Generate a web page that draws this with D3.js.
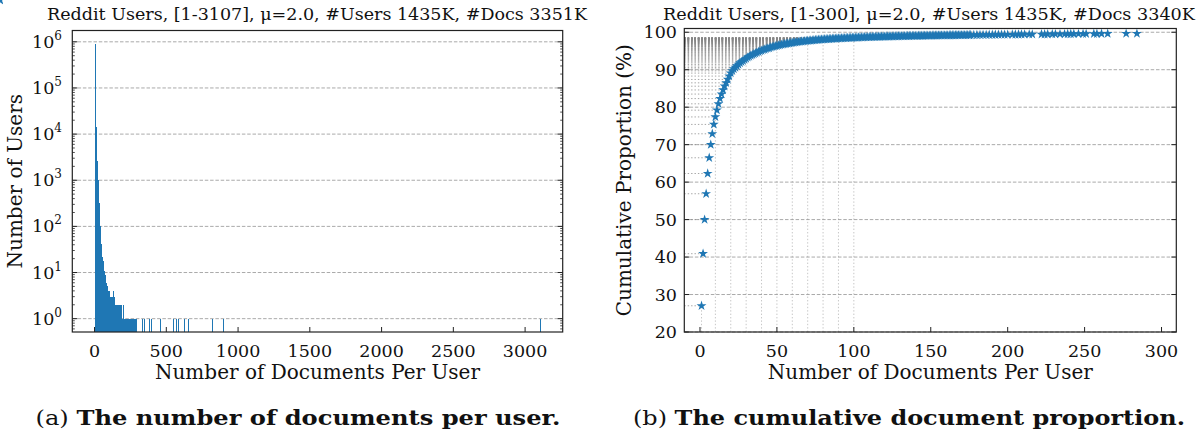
<!DOCTYPE html>
<html>
<head>
<meta charset="utf-8">
<script src="https://cdn.jsdelivr.net/npm/d3@7"></script>
<style>
  body { margin: 0; background: #fff; }
  svg text { font-family: "DejaVu Serif", "Liberation Serif", serif; fill: #111; }
</style>
</head>
<body>
<svg id="fig" width="1203" height="433" font-family="DejaVu Serif"></svg>
<script>
// ---- data ----
// left panel: number of users per document count, counts for 1..280 docs
var histCounts = [
  912000, 210000, 105000, 62000, 40000, 27000, 19000, 14000, 10500, 7600,
  6000, 4800, 3900, 3200, 2650, 2200, 1850, 1560, 1330, 1140,
  990, 860, 750, 630, 530, 450, 380, 322, 272, 230,
  195, 166, 142, 122, 104, 90, 77, 62, 55, 50,
  46, 42, 38, 34, 30, 27, 25, 23, 22, 20,
  19, 21, 18, 17, 15, 18, 14, 13, 14, 12,
  13, 10, 11, 9, 10, 11, 8, 9, 7, 8,
  9, 6, 7, 5, 6, 4, 5, 6, 4, 6,
  3, 5, 3, 4, 5, 2, 3, 5, 2, 3,
  1, 4, 2, 3, 2, 1, 3, 2, 4, 2,
  1, 3, 2, 0, 2, 3, 1, 2, 2, 1,
  3, 1, 2, 0, 2, 1, 3, 2, 1, 2,
  1, 2, 0, 3, 1, 2, 1, 4, 1, 2,
  0, 1, 2, 1, 3, 1, 0, 2, 1, 1,
  2, 1, 0, 1, 2, 1, 1, 0, 2, 1,
  1, 0, 1, 2, 1, 0, 1, 1, 2, 1,
  0, 2, 1, 0, 2, 1, 0, 2, 1, 0,
  1, 2, 0, 1, 2, 0, 1, 0, 2, 1,
  0, 1, 0, 2, 1, 0, 1, 0, 1, 1,
  0, 1, 0, 0, 1, 1, 0, 1, 0, 2,
  1, 0, 1, 0, 0, 1, 1, 0, 1, 0,
  0, 1, 0, 1, 0, 0, 1, 0, 1, 0,
  0, 1, 0, 0, 1, 0, 1, 0, 0, 1,
  0, 0, 1, 0, 0, 0, 1, 0, 1, 0,
  0, 1, 0, 0, 0, 1, 0, 1, 0, 0,
  0, 1, 0, 0, 1, 0, 0, 0, 1, 0,
  0, 1, 0, 0, 0, 0, 1, 0, 0, 1,
  0, 0, 0, 1, 0, 0, 0, 0, 1, 0
];
// single users with many documents
var tailDocs = [291, 332, 346, 378, 397, 455, 548, 571, 582, 624, 652, 819, 896, 3107];
var tailCounts = [1, 1, 1, 1, 1, 1, 1, 1, 1, 1, 1, 1, 1, 1];

// right panel: cumulative proportion (%) per document count
var cumDocs = d3.range(1, 177).concat([178, 180, 182, 184, 186, 188, 190, 192, 194, 196, 198, 200, 203, 205,
  207, 209, 211, 214, 216, 222, 224, 226, 229, 231, 234, 237, 239, 241, 243, 246, 249, 251,
  256, 258, 261, 265, 277, 284, 294, 297]);
var cumValues = [
  27.0, 40.9, 50.0, 56.9, 62.3, 66.5, 70.0, 72.9, 75.4, 77.4,
  79.2, 80.9, 82.3, 83.5, 84.6, 85.6, 86.5, 87.4, 88.3, 89.1,
  89.7, 90.2, 90.6, 91.0, 91.4, 91.8, 92.1, 92.4, 92.7, 93.0,
  93.3, 93.5, 93.8, 94.0, 94.2, 94.4, 94.6, 94.8, 95.0, 95.1,
  95.3, 95.4, 95.6, 95.7, 95.8, 96.0, 96.1, 96.2, 96.3, 96.4,
  96.5, 96.6, 96.7, 96.8, 96.86, 96.93, 97.0, 97.07, 97.14, 97.2,
  97.26, 97.32, 97.38, 97.43, 97.48, 97.53, 97.58, 97.63, 97.68, 97.72,
  97.76, 97.8, 97.84, 97.88, 97.92, 97.96, 98.0, 98.03, 98.06, 98.09,
  98.12, 98.15, 98.18, 98.21, 98.24, 98.26, 98.29, 98.31, 98.34, 98.36,
  98.38, 98.40, 98.42, 98.44, 98.46, 98.48, 98.50, 98.52, 98.54, 98.56,
  98.58, 98.60, 98.61, 98.63, 98.65, 98.66, 98.68, 98.69, 98.71, 98.72,
  98.74, 98.75, 98.76, 98.78, 98.79, 98.80, 98.81, 98.83, 98.84, 98.85,
  98.86, 98.87, 98.88, 98.89, 98.90, 98.91, 98.92, 98.93, 98.94, 98.95,
  98.96, 98.97, 98.98, 98.99, 99.00, 99.01, 99.02, 99.02, 99.03, 99.04,
  99.05, 99.06, 99.06, 99.07, 99.08, 99.09, 99.09, 99.10, 99.11, 99.11,
  99.12, 99.13, 99.13, 99.14, 99.15, 99.15, 99.16, 99.16, 99.17, 99.18,
  99.18, 99.19, 99.19, 99.20, 99.20, 99.21, 99.22, 99.22, 99.23, 99.23,
  99.24, 99.24, 99.25, 99.25, 99.26, 99.26,
  99.27, 99.28, 99.29, 99.30, 99.31, 99.32, 99.33, 99.34, 99.35, 99.36, 99.37, 99.38, 99.39, 99.40,
  99.41, 99.42, 99.43, 99.44, 99.45, 99.46, 99.47, 99.48, 99.49, 99.50, 99.51, 99.52, 99.53, 99.54,
  99.55, 99.56, 99.57, 99.58, 99.59, 99.60, 99.61, 99.62, 99.63, 99.65
];
var guideDocs = [1, 10, 20, 30, 40, 50, 60, 70, 80, 90, 100];

var leftXTicks = [0, 500, 1000, 1500, 2000, 2500, 3000];
var leftYTicks = [1, 10, 100, 1000, 10000, 100000, 1000000];
var rightXTicks = [0, 50, 100, 150, 200, 250, 300];
var rightYTicks = [20, 30, 40, 50, 60, 70, 80, 90, 100];

var titleA = "Reddit Users, [1-3107], \u03bc=2.0, #Users 1435K, #Docs 3351K";
var titleB = "Reddit Users, [1-300], \u03bc=2.0, #Users 1435K, #Docs 3340K";

var blue = "#1f77b4";
var svg = d3.select("#fig");

// ---- helpers ----
function frame(g, x0, x1, y0, y1) {
  g.append("rect").attr("x", x0).attr("y", y0).attr("width", x1 - x0).attr("height", y1 - y0)
    .attr("fill", "none").attr("stroke", "#222").attr("stroke-width", 1.2);
}
function hGrid(g, y, ticks, x0, x1) {
  g.append("g").selectAll("line").data(ticks).enter().append("line")
    .attr("x1", x0).attr("x2", x1)
    .attr("y1", function(d) { return y(d); }).attr("y2", function(d) { return y(d); })
    .attr("stroke", "#aaa").attr("stroke-width", 1).attr("stroke-dasharray", "3.5,1.8");
}
function title(g, x, w, txt) {
  g.append("text").attr("x", x).attr("y", 19.5).attr("text-anchor", "middle")
    .attr("font-size", 17.5).attr("textLength", w).attr("lengthAdjust", "spacingAndGlyphs").text(txt);
}

// ================= panel (a) =================
var ax = { left: 72.3, right: 562.7, top: 30.5, bottom: 332 };
var xA = d3.scaleLinear().domain([-155, 3262]).range([ax.left, ax.right]);
var yA = d3.scaleLog().domain([0.514, 1.76e6]).range([ax.bottom, ax.top]);
var gA = svg.append("g");

hGrid(gA, yA, leftYTicks, ax.left, ax.right);

var barData = histCounts.map(function(c, i) { return { d: i + 1, c: c }; })
  .concat(tailDocs.map(function(d, i) { return { d: d, c: tailCounts[i] }; }))
  .filter(function(b) { return b.c > 0; });

gA.append("g").selectAll("rect").data(barData).enter().append("rect")
  .attr("x", function(b) { return xA(b.d - 0.4); })
  .attr("width", function(b) { return Math.max(1, xA(b.d + 0.4) - xA(b.d - 0.4)); })
  .attr("y", function(b) { return yA(b.c); })
  .attr("height", function(b) { return ax.bottom - yA(b.c); })
  .attr("fill", blue).attr("shape-rendering", "crispEdges");

// y ticks, major + minor, both sides inward
var minorA = [];
for (var e = -1; e <= 6; e++) for (var m = 2; m <= 9; m++) {
  var v = m * Math.pow(10, e);
  if (v > yA.domain()[0] && v < yA.domain()[1]) minorA.push(v);
}
[ax.left, ax.right].forEach(function(xx, side) {
  var dir = side === 0 ? 1 : -1;
  gA.append("g").selectAll("line").data(leftYTicks).enter().append("line")
    .attr("x1", xx).attr("x2", xx + dir * 5).attr("y1", function(d) { return yA(d); }).attr("y2", function(d) { return yA(d); })
    .attr("stroke", "#222");
  gA.append("g").selectAll("line").data(minorA).enter().append("line")
    .attr("x1", xx).attr("x2", xx + dir * 2.5).attr("y1", function(d) { return yA(d); }).attr("y2", function(d) { return yA(d); })
    .attr("stroke", "#222").attr("stroke-width", 0.8);
});
var ylab = gA.append("g").selectAll("text").data(leftYTicks).enter().append("text")
  .attr("x", 62).attr("y", function(d) { return yA(d) + 6; })
  .attr("text-anchor", "end").attr("font-size", 17.5);
ylab.append("tspan").text("10");
ylab.append("tspan").attr("dy", -8).attr("font-size", 12).text(function(d) { return Math.round(Math.log10(d)); });

gA.append("g").selectAll("line").data(leftXTicks).enter().append("line")
  .attr("x1", function(d) { return xA(d); }).attr("x2", function(d) { return xA(d); })
  .attr("y1", ax.bottom).attr("y2", ax.bottom - 5).attr("stroke", "#222");
gA.append("g").selectAll("text").data(leftXTicks).enter().append("text")
  .attr("x", function(d) { return xA(d); }).attr("y", 357)
  .attr("text-anchor", "middle").attr("font-size", 17.5).text(function(d) { return d; });

frame(gA, ax.left, ax.right, ax.top, ax.bottom);

title(gA, 317, 540, titleA);
gA.append("text").attr("x", (ax.left + ax.right) / 2).attr("y", 379).attr("text-anchor", "middle")
  .attr("font-size", 20).text("Number of Documents Per User");
gA.append("text").attr("transform", "translate(22," + (ax.top + ax.bottom) / 2 + ") rotate(-90)")
  .attr("text-anchor", "middle").attr("font-size", 20).text("Number of Users");

// ================= panel (b) =================
var bx = { left: 684.3, right: 1176.3, top: 28.5, bottom: 332 };
var xB = d3.scaleLinear().domain([-10.2, 309.6]).range([bx.left, bx.right]);
var yB = d3.scaleLinear().domain([20, 101]).range([bx.bottom, bx.top]);
var gB = svg.append("g");

hGrid(gB, yB, rightYTicks, bx.left, bx.right);

var pts = cumDocs.map(function(d, i) { return { d: d, v: cumValues[i] }; });

// dotted guide lines from the axis to each marker
gB.append("g").selectAll("line").data(pts.filter(function(p) { return p.d <= 100; })).enter().append("line")
  .attr("x1", bx.left).attr("x2", function(p) { return xB(p.d); })
  .attr("y1", function(p) { return yB(p.v); }).attr("y2", function(p) { return yB(p.v); })
  .attr("stroke", "#888").attr("stroke-opacity", 0.75).attr("stroke-width", 1).attr("stroke-dasharray", "1.4,2");
gB.append("g").selectAll("line").data(pts.filter(function(p) { return guideDocs.indexOf(p.d) >= 0; })).enter().append("line")
  .attr("x1", function(p) { return xB(p.d); }).attr("x2", function(p) { return xB(p.d); })
  .attr("y1", bx.bottom).attr("y2", function(p) { return yB(p.v); })
  .attr("stroke", "#999").attr("stroke-opacity", 0.55).attr("stroke-width", 1).attr("stroke-dasharray", "1.4,2");

var star = d3.symbol().type(d3.symbolStar).size(30);
gB.append("g").selectAll("path").data(pts).enter().append("path")
  .attr("d", star)
  .attr("transform", function(p) { return "translate(" + xB(p.d) + "," + yB(p.v) + ")"; })
  .attr("fill", blue);

[bx.left, bx.right].forEach(function(xx, side) {
  var dir = side === 0 ? 1 : -1;
  gB.append("g").selectAll("line").data(rightYTicks).enter().append("line")
    .attr("x1", xx).attr("x2", xx + dir * 5).attr("y1", function(d) { return yB(d); }).attr("y2", function(d) { return yB(d); })
    .attr("stroke", "#222");
});
gB.append("g").selectAll("text").data(rightYTicks).enter().append("text")
  .attr("x", 677).attr("y", function(d) { return yB(d) + 6; })
  .attr("text-anchor", "end").attr("font-size", 17.5).text(function(d) { return d; });

gB.append("g").selectAll("line").data(rightXTicks).enter().append("line")
  .attr("x1", function(d) { return xB(d); }).attr("x2", function(d) { return xB(d); })
  .attr("y1", bx.bottom).attr("y2", bx.bottom - 5).attr("stroke", "#222");
gB.append("g").selectAll("text").data(rightXTicks).enter().append("text")
  .attr("x", function(d) { return xB(d); }).attr("y", 357)
  .attr("text-anchor", "middle").attr("font-size", 17.5).text(function(d) { return d; });

frame(gB, bx.left, bx.right, bx.top, bx.bottom);

title(gB, 929, 532, titleB);
gB.append("text").attr("x", (bx.left + bx.right) / 2).attr("y", 379).attr("text-anchor", "middle")
  .attr("font-size", 20).text("Number of Documents Per User");
gB.append("text").attr("transform", "translate(631," + (bx.top + bx.bottom) / 2 + ") rotate(-90)")
  .attr("text-anchor", "middle").attr("font-size", 20).text("Cumulative Proportion (%)");

// ---- captions ----
function caption(x, w, tag, body) {
  var t = svg.append("text").attr("x", x).attr("y", 425).attr("text-anchor", "middle").attr("font-size", 21)
    .attr("textLength", w).attr("lengthAdjust", "spacingAndGlyphs");
  t.append("tspan").text(tag + " ");
  t.append("tspan").attr("font-weight", "bold").text(body);
}
caption(298, 525, "(a)", "The number of documents per user.");
caption(909, 552, "(b)", "The cumulative document proportion.");
</script>
</body>
</html>
